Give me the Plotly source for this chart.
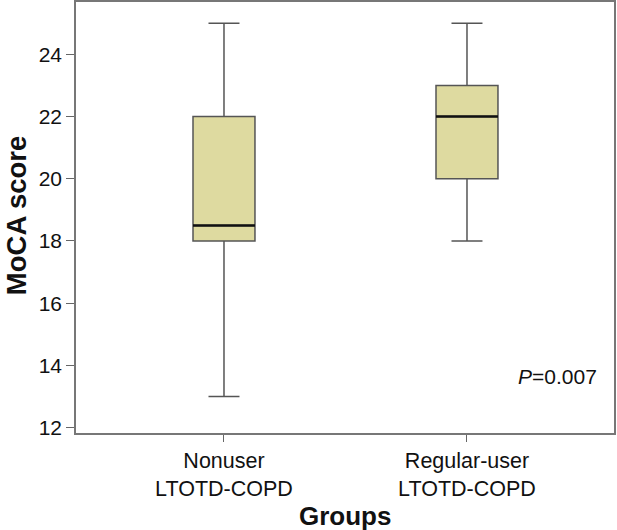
import plotly.graph_objects as go

groups = ["Nonuser<br>LTOTD-COPD", "Regular-user<br>LTOTD-COPD"]
positions = [0, 1]
q1 = [18, 20]
median = [18.5, 22]
q3 = [22, 23]
lower = [13, 18]
upper = [25, 25]
y_ticks = [12, 14, 16, 18, 20, 22, 24]
p_text = "<i>P</i>=0.007"
x_title = "<b>Groups</b>"
y_title = "<b>MoCA score</b>"

box_w = 0.255
FONT = "Liberation Sans, Arial, sans-serif"

fig = go.Figure()
fig.add_trace(go.Box(
    x=positions, q1=q1, median=median, q3=q3,
    lowerfence=lower, upperfence=upper,
    width=box_w, whiskerwidth=0.5,
    fillcolor="#DEDAA0", line=dict(color="#555555", width=1.5),
    boxpoints=False, hoverinfo="skip", showlegend=False,
))
for p, m in zip(positions, median):
    fig.add_trace(go.Scatter(
        x=[p - box_w / 2, p + box_w / 2], y=[m, m], mode="lines",
        line=dict(color="#111111", width=2.5), showlegend=False, hoverinfo="skip",
    ))

fig.add_annotation(
    x=0.972, xref="paper", y=13.63, yref="y", text=p_text,
    showarrow=False, xanchor="right", yanchor="middle",
    font=dict(family=FONT, size=21, color="#111111"),
)
fig.add_annotation(
    x=0.5, xref="paper", y=-0.192, yref="paper", text=x_title,
    showarrow=False, xanchor="center", yanchor="middle",
    font=dict(family=FONT, size=26, color="#111111"),
)
fig.add_annotation(
    x=-0.11, xref="paper", y=0.505, yref="paper", text=y_title, textangle=-90,
    showarrow=False, xanchor="center", yanchor="middle",
    font=dict(family=FONT, size=27.5, color="#111111"),
)

fig.update_layout(
    width=617, height=530,
    margin=dict(l=76, r=3, t=2, b=97, autoexpand=False),
    plot_bgcolor="white", paper_bgcolor="white",
    font=dict(family=FONT, color="#111111"),
)
fig.update_xaxes(
    range=[-0.609, 1.605], tickvals=positions, ticktext=groups,
    tickfont=dict(size=21.5, family=FONT, color="#111111"),
    ticks="outside", ticklen=7, tickcolor="#666666",
    showline=True, linecolor="#777777", linewidth=1.5, mirror=True,
    showgrid=False, zeroline=False, automargin=False,
)
fig.update_yaxes(
    range=[11.83, 25.68], tickvals=y_ticks,
    tickfont=dict(size=21, family=FONT, color="#111111"),
    ticks="outside", ticklen=8, tickcolor="#666666",
    showline=True, linecolor="#777777", linewidth=1.5, mirror=True,
    showgrid=False, zeroline=False, automargin=False,
)

fig.write_html("out.html", config={"displayModeBar": False},
               post_script="document.body.style.margin='0';document.body.style.overflow='hidden';")
